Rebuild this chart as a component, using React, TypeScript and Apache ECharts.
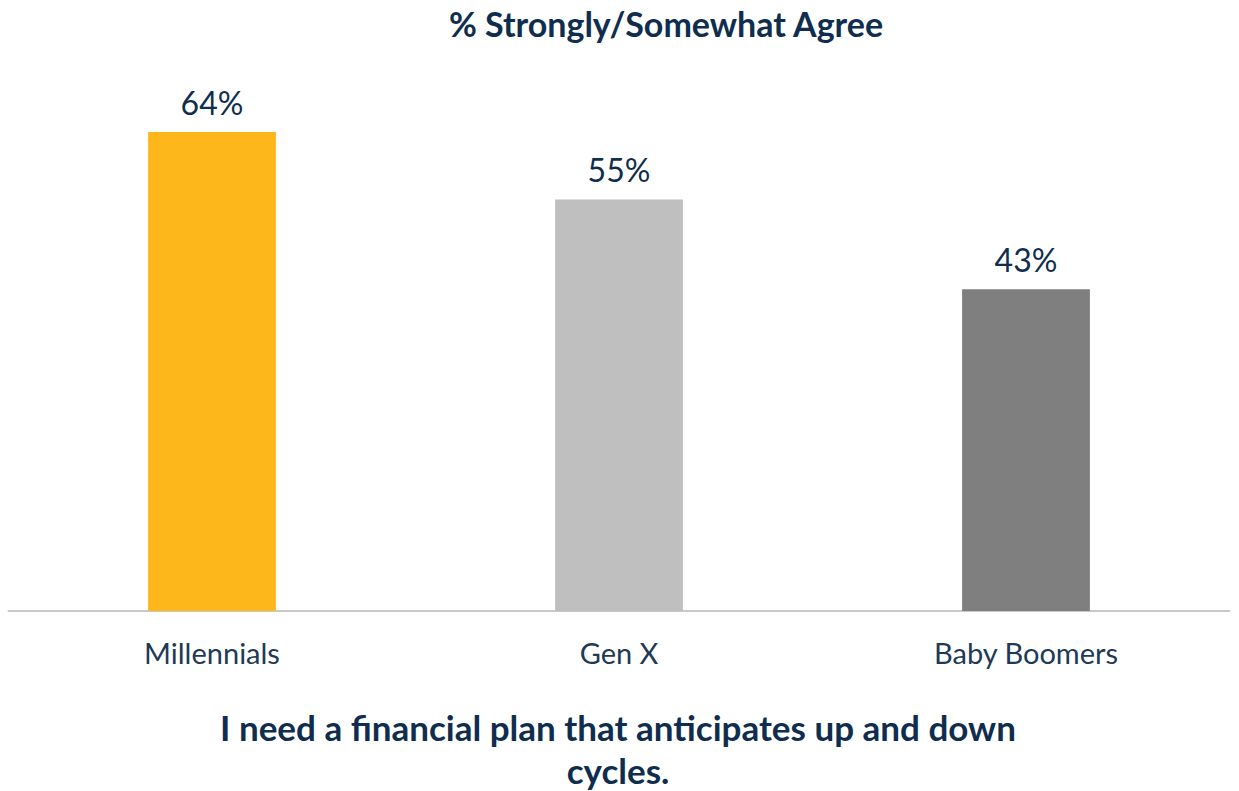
import React, { useEffect, useRef } from "react";
import * as echarts from "echarts";

const categories = ["Millennials", "Gen X", "Baby Boomers"];
const values = [64, 55, 43];
const barColors = ["#FDB71B", "#BFBFBF", "#7F7F7F"];
const titleText = "% Strongly/Somewhat Agree";
const footerLines = ["I need a financial plan that anticipates up and down", "cycles."];

const NAVY = "#0F2E4F";
const FONT = "Lato, 'Open Sans', sans-serif";

export default function App() {
  const ref = useRef<HTMLDivElement>(null);
  useEffect(() => {
    if (!ref.current) return;
    const chart = echarts.init(ref.current, null, { renderer: "svg" });
    chart.setOption({
      animation: false,
      backgroundColor: "#FFFFFF",
      grid: { left: 8.5, right: 9.5, top: 12.3, bottom: 180, containLabel: false },
      xAxis: {
        type: "category",
        data: categories,
        axisLine: { show: true, lineStyle: { color: "#C9C9C9", width: 2 } },
        axisTick: { show: false },
        axisLabel: { color: "#1E3A56", fontFamily: FONT, fontSize: 29, margin: 27 },
      },
      yAxis: {
        type: "value",
        min: 0,
        max: 80,
        show: false,
        splitLine: { show: false },
      },
      series: [
        {
          type: "bar",
          barWidth: "31.4%",
          data: values.map((v, i) => ({ value: v, itemStyle: { color: barColors[i] } })),
          label: {
            show: true,
            position: "top",
            distance: 14,
            formatter: "{c}%",
            color: NAVY,
            fontFamily: FONT,
            fontSize: 32,
          },
        },
      ],
      graphic: [
        {
          type: "text",
          x: 666,
          y: 23,
          style: {
            text: titleText,
            textAlign: "center",
            textVerticalAlign: "middle",
            fill: NAVY,
            fontFamily: FONT,
            fontWeight: "bold",
            fontSize: 34,
          },
        },
        {
          type: "text",
          x: 618,
          y: 705,
          style: {
            text: footerLines.join("\n"),
            textAlign: "center",
            fill: NAVY,
            fontFamily: FONT,
            fontWeight: "bold",
            fontSize: 35,
            lineHeight: 43,
          },
        },
      ],
    });
    return () => chart.dispose();
  }, []);
  return (
    <div
      ref={ref}
      style={{ position: "fixed", left: 0, top: 0, width: 1239, height: 791 }}
    />
  );
}
